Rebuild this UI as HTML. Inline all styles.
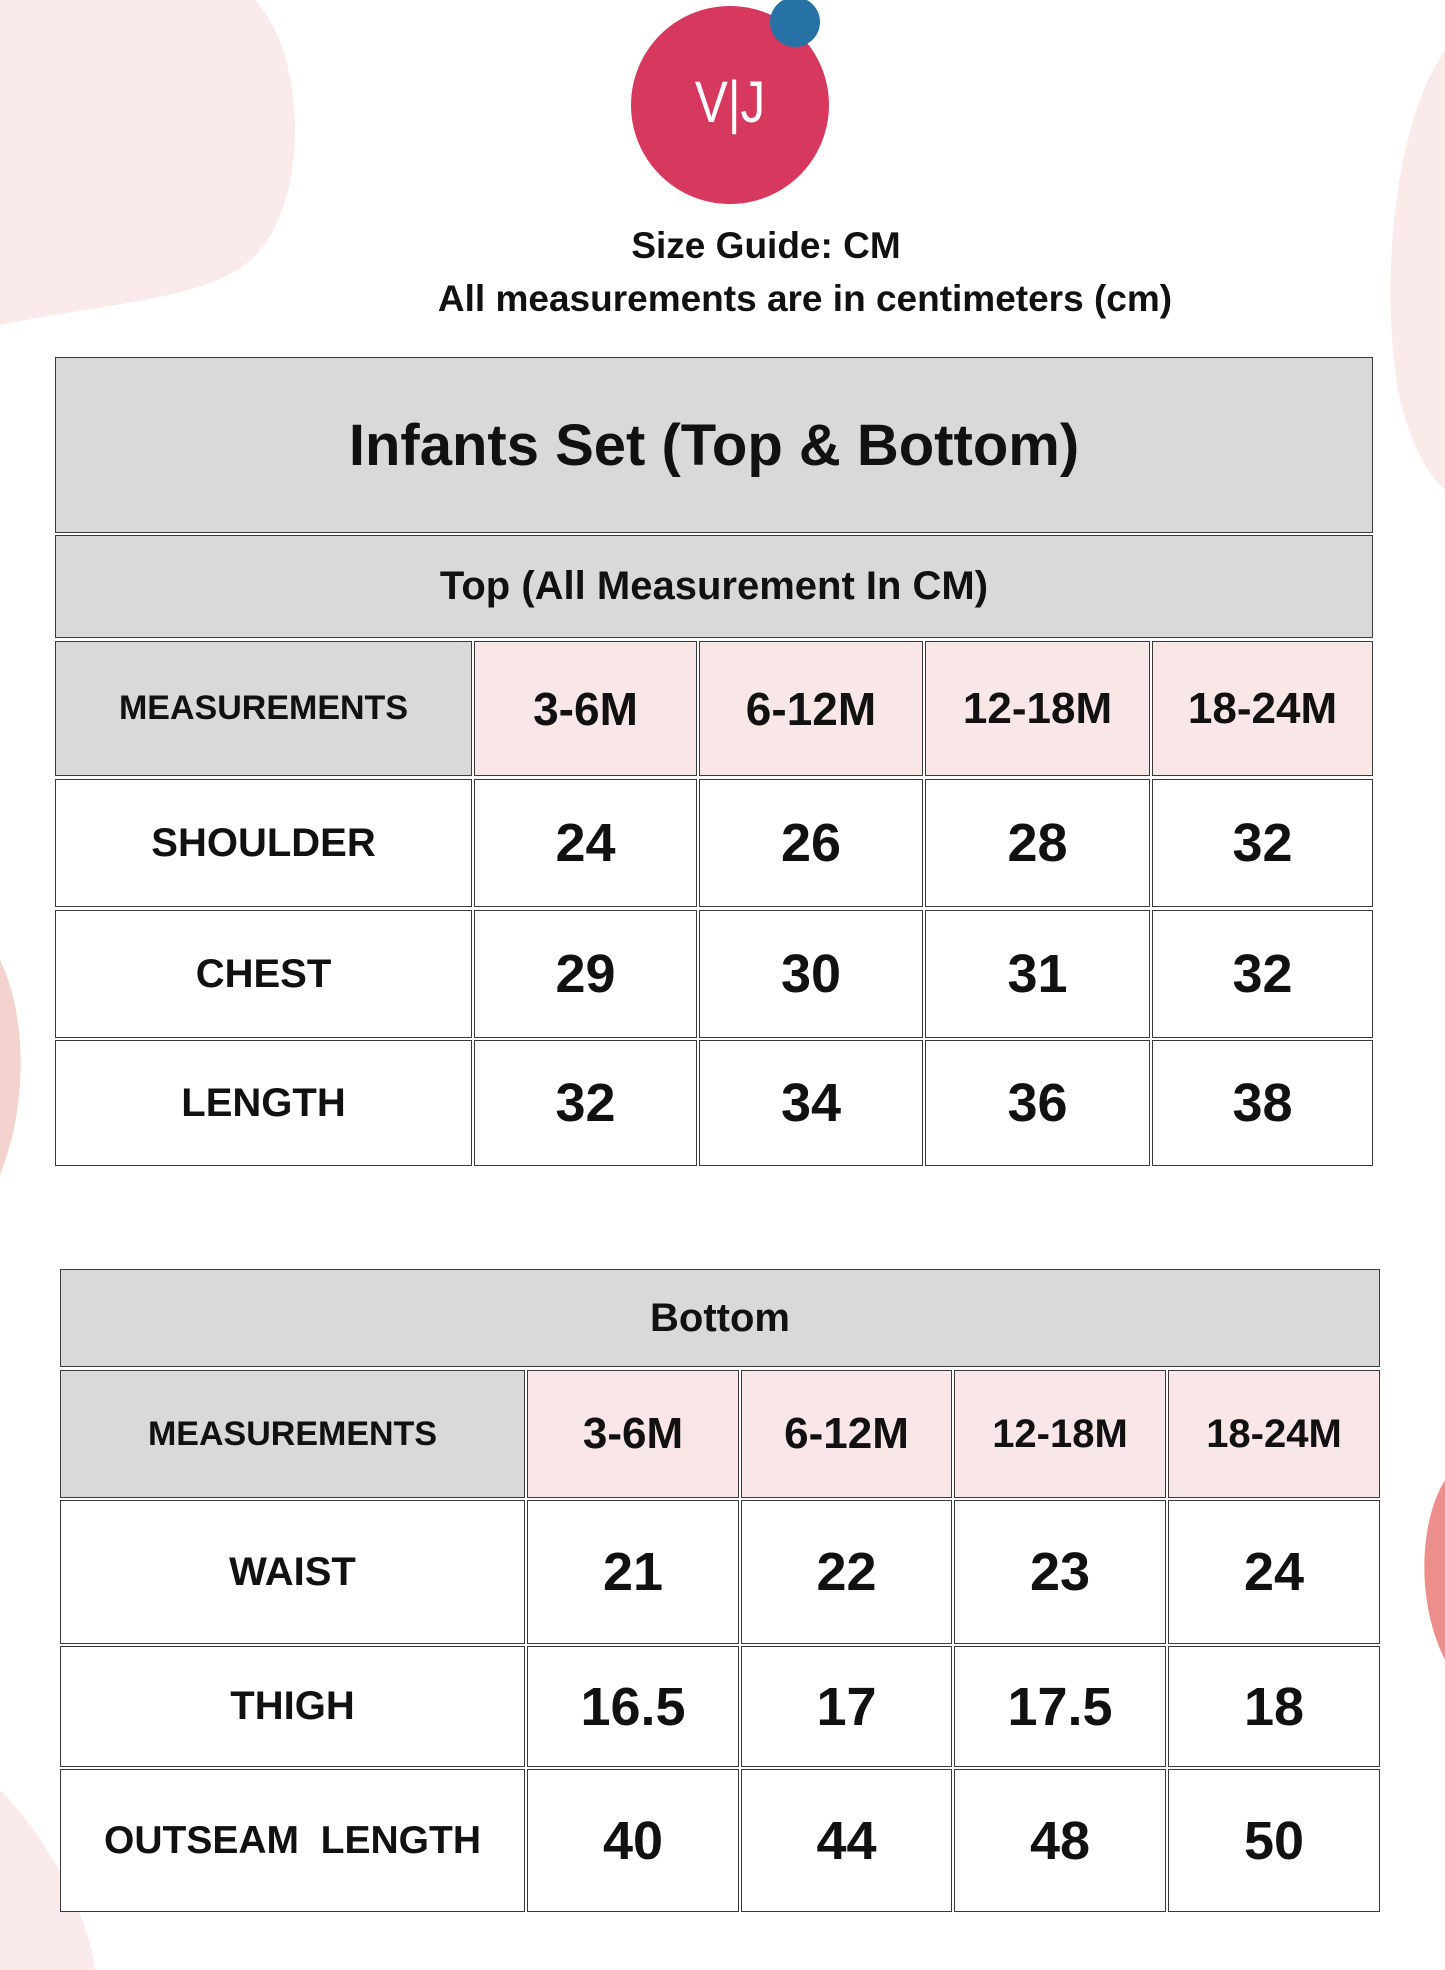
<!DOCTYPE html>
<html><head><meta charset="utf-8"><style>
html,body{margin:0;padding:0}
body{width:1445px;height:1970px;position:relative;overflow:hidden;background:#fff;font-family:"Liberation Sans",sans-serif;font-weight:bold;color:#111}
.c{position:absolute;box-sizing:border-box;border:1.5px solid #3a3a3a;display:flex;align-items:center;justify-content:center;text-align:center;white-space:nowrap}
.g{background:#d9d9d9}.p{background:#f9e6e6}.w{background:#fff}
.t{position:absolute;left:0;width:1445px;text-align:center;white-space:nowrap}
</style></head><body>
<svg width="1445" height="1970" style="position:absolute;left:0;top:0">
<path d="M0,0 L255,0 C310,60 305,200 260,250 C220,300 120,300 0,325 Z" fill="#fbeaea"/>
<path d="M1445,50 C1390,130 1380,300 1400,400 C1415,460 1435,480 1445,490 Z" fill="#fbeaea"/>
<path d="M0,960 C25,1010 30,1100 0,1175 Z" fill="#f4d3cf"/>
<path d="M1445,1480 C1420,1520 1415,1600 1445,1660 Z" fill="#ec8f8c"/>
<path d="M0,1790 C50,1840 90,1920 95,1970 L0,1970 Z" fill="#fbeaea"/>
<circle cx="730" cy="105" r="99" fill="#d6385e"/>
<circle cx="795" cy="22" r="25" fill="#2671a5"/>
<text x="730" y="122" text-anchor="middle" font-family="Liberation Sans" font-size="58" fill="#fff" font-weight="normal" transform="translate(730,0) scale(0.85,1) translate(-730,0)">V|J</text>
</svg>
<div class="t" style="top:225px;left:766px;width:0;"><div style="position:absolute;transform:translateX(-50%);font-size:37px">Size Guide: CM</div></div>
<div class="t" style="top:278px;left:805px;width:0;"><div style="position:absolute;transform:translateX(-50%);font-size:37px">All measurements are in centimeters (cm)</div></div>

<div class="c g" style="left:55px;top:357px;width:1318px;height:176px;font-size:58px">Infants Set (Top &amp; Bottom)</div>
<div class="c g" style="left:55px;top:535px;width:1318px;height:103px;font-size:40px">Top (All Measurement In CM)</div>

<div class="c g" style="left:55px;top:641px;width:417px;height:135px;font-size:34px">MEASUREMENTS</div>
<div class="c p" style="left:474px;top:641px;width:223px;height:135px;font-size:46px">3-6M</div>
<div class="c p" style="left:699px;top:641px;width:224px;height:135px;font-size:46px">6-12M</div>
<div class="c p" style="left:925px;top:641px;width:225px;height:135px;font-size:44px">12-18M</div>
<div class="c p" style="left:1152px;top:641px;width:221px;height:135px;font-size:44px">18-24M</div>

<div class="c w" style="left:55px;top:779px;width:417px;height:128px;font-size:40px">SHOULDER</div>
<div class="c w" style="left:474px;top:779px;width:223px;height:128px;font-size:54px">24</div>
<div class="c w" style="left:699px;top:779px;width:224px;height:128px;font-size:54px">26</div>
<div class="c w" style="left:925px;top:779px;width:225px;height:128px;font-size:54px">28</div>
<div class="c w" style="left:1152px;top:779px;width:221px;height:128px;font-size:54px">32</div>

<div class="c w" style="left:55px;top:910px;width:417px;height:128px;font-size:40px">CHEST</div>
<div class="c w" style="left:474px;top:910px;width:223px;height:128px;font-size:54px">29</div>
<div class="c w" style="left:699px;top:910px;width:224px;height:128px;font-size:54px">30</div>
<div class="c w" style="left:925px;top:910px;width:225px;height:128px;font-size:54px">31</div>
<div class="c w" style="left:1152px;top:910px;width:221px;height:128px;font-size:54px">32</div>

<div class="c w" style="left:55px;top:1040px;width:417px;height:126px;font-size:40px">LENGTH</div>
<div class="c w" style="left:474px;top:1040px;width:223px;height:126px;font-size:54px">32</div>
<div class="c w" style="left:699px;top:1040px;width:224px;height:126px;font-size:54px">34</div>
<div class="c w" style="left:925px;top:1040px;width:225px;height:126px;font-size:54px">36</div>
<div class="c w" style="left:1152px;top:1040px;width:221px;height:126px;font-size:54px">38</div>

<div class="c g" style="left:60px;top:1269px;width:1320px;height:98px;font-size:40px">Bottom</div>

<div class="c g" style="left:60px;top:1370px;width:465px;height:128px;font-size:34px">MEASUREMENTS</div>
<div class="c p" style="left:527px;top:1370px;width:212px;height:128px;font-size:44px">3-6M</div>
<div class="c p" style="left:741px;top:1370px;width:211px;height:128px;font-size:44px">6-12M</div>
<div class="c p" style="left:954px;top:1370px;width:212px;height:128px;font-size:40px">12-18M</div>
<div class="c p" style="left:1168px;top:1370px;width:212px;height:128px;font-size:40px">18-24M</div>

<div class="c w" style="left:60px;top:1500px;width:465px;height:144px;font-size:40px">WAIST</div>
<div class="c w" style="left:527px;top:1500px;width:212px;height:144px;font-size:54px">21</div>
<div class="c w" style="left:741px;top:1500px;width:211px;height:144px;font-size:54px">22</div>
<div class="c w" style="left:954px;top:1500px;width:212px;height:144px;font-size:54px">23</div>
<div class="c w" style="left:1168px;top:1500px;width:212px;height:144px;font-size:54px">24</div>

<div class="c w" style="left:60px;top:1646px;width:465px;height:121px;font-size:40px">THIGH</div>
<div class="c w" style="left:527px;top:1646px;width:212px;height:121px;font-size:54px">16.5</div>
<div class="c w" style="left:741px;top:1646px;width:211px;height:121px;font-size:54px">17</div>
<div class="c w" style="left:954px;top:1646px;width:212px;height:121px;font-size:54px">17.5</div>
<div class="c w" style="left:1168px;top:1646px;width:212px;height:121px;font-size:54px">18</div>

<div class="c w" style="left:60px;top:1769px;width:465px;height:143px;font-size:39px">OUTSEAM&nbsp; LENGTH</div>
<div class="c w" style="left:527px;top:1769px;width:212px;height:143px;font-size:54px">40</div>
<div class="c w" style="left:741px;top:1769px;width:211px;height:143px;font-size:54px">44</div>
<div class="c w" style="left:954px;top:1769px;width:212px;height:143px;font-size:54px">48</div>
<div class="c w" style="left:1168px;top:1769px;width:212px;height:143px;font-size:54px">50</div>
</body></html>
